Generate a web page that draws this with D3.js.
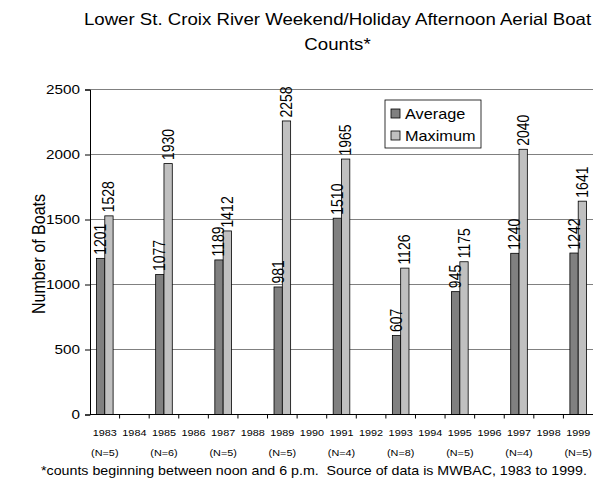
<!DOCTYPE html>
<html lang="en">
<head>
    <meta charset="UTF-8">
    <title>Lower St. Croix River Boat Counts</title>
    <script src="https://d3js.org/d3.v7.min.js"></script>
    <style>
        body { margin: 0; background: #fff; font-family: Arial, "Liberation Sans", sans-serif; }
        text { font-family: Arial, "Liberation Sans", sans-serif; fill: #000; }
    </style>
</head>
<body>
    <div id="chart"></div>

    <script>
        // data
        const years = ["1983","1984","1985","1986","1987","1988","1989","1990","1991",
                       "1992","1993","1994","1995","1996","1997","1998","1999"];
        const nLabels = ["(N=5)","","(N=6)","","(N=5)","","(N=5)","","(N=4)",
                         "","(N=8)","","(N=5)","","(N=4)","","(N=5)"];
        const surveyYears = ["1983","1985","1987","1989","1991","1993","1995","1997","1999"];
        const average = [1201, 1077, 1189, 981, 1510, 607, 945, 1240, 1242];
        const maximum = [1528, 1930, 1412, 2258, 1965, 1126, 1175, 2040, 1641];
        const seriesNames = ["Average", "Maximum"];
        const yTicks = [0, 500, 1000, 1500, 2000, 2500];

        const W = 595, H = 483;
        const plotLeft = 90, plotRight = 593, plotTop = 89.5, plotBottom = 414.5;
        const SX = 1.13; // the original text looks a bit stretched sideways

        const svg = d3.select("#chart").append("svg")
            .attr("width", W).attr("height", H);

        // place horizontal text at (x, y) with the sideways stretch
        function place(sel, fx, fy) {
            return sel.attr("transform", (d, i) => `translate(${fx(d, i)},${fy(d, i)}) scale(${SX},1)`);
        }

        const x = d3.scaleBand().domain(years).range([plotLeft, plotRight]).padding(0);
        const xs = d3.scaleBand().domain(seriesNames).range([0, x.bandwidth()])
            .paddingInner(0).paddingOuter(0.78);
        const y = d3.scaleLinear().domain([0, 2500]).range([plotBottom, plotTop]);
        const color = d3.scaleOrdinal().domain(seriesNames).range(["#808080", "#c0c0c0"]);

        // title
        place(svg.append("g").selectAll("text")
            .data(["Lower St. Croix River Weekend/Holiday Afternoon Aerial Boat", "Counts*"])
            .join("text")
            .attr("text-anchor", "middle").attr("font-size", 16.5)
            .text(d => d), () => 337.5, (d, i) => 25 + i * 25);

        // gridlines
        svg.append("g").selectAll("line").data(yTicks.filter(d => d > 0)).join("line")
            .attr("x1", plotLeft).attr("x2", plotRight)
            .attr("y1", d => y(d)).attr("y2", d => y(d))
            .attr("stroke", "#808080").attr("stroke-width", 1.2);

        // bars
        const rows = surveyYears.map((yr, i) => ({ year: yr, values: [
            { key: "Average", value: average[i] },
            { key: "Maximum", value: maximum[i] }
        ]}));

        const groups = svg.append("g").selectAll("g").data(rows).join("g")
            .attr("transform", d => `translate(${x(d.year)},0)`);

        groups.selectAll("rect").data(d => d.values).join("rect")
            .attr("x", d => xs(d.key))
            .attr("width", xs.bandwidth())
            .attr("y", d => y(d.value))
            .attr("height", d => y(0) - y(d.value))
            .attr("fill", d => color(d.key))
            .attr("stroke", "#000").attr("stroke-width", 0.8);

        groups.selectAll("text").data(d => d.values).join("text")
            .attr("font-size", 14)
            .attr("transform", d => `translate(${xs(d.key) + xs.bandwidth() / 2 + 5.5},${y(d.value) - 3.5}) rotate(-90) scale(1,${SX})`)
            .text(d => d.value);

        // y axis
        const yAxis = svg.append("g").attr("transform", `translate(${plotLeft},0)`)
            .call(d3.axisLeft(y).tickValues(yTicks).tickFormat(d3.format("d"))
                .tickSize(5).tickPadding(3.9));
        yAxis.select(".domain").attr("stroke", "#000");
        yAxis.selectAll(".tick line").attr("stroke", "#000");
        yAxis.selectAll("text").attr("font-size", 13.5).attr("fill", "#000")
            .attr("font-family", "Arial, 'Liberation Sans', sans-serif")
            .attr("transform", `scale(${SX},1)`);

        // x axis
        svg.append("line").attr("x1", plotLeft).attr("x2", plotRight)
            .attr("y1", y(0)).attr("y2", y(0)).attr("stroke", "#000");
        svg.append("g").selectAll("line").data(years.slice(1)).join("line")
            .attr("x1", d => x(d)).attr("x2", d => x(d))
            .attr("y1", y(0)).attr("y2", y(0) + 4).attr("stroke", "#000");

        place(svg.append("g").selectAll("text").data(years).join("text")
            .attr("text-anchor", "middle").attr("font-size", 9.6)
            .text(d => d), d => x(d) + x.bandwidth() / 2, () => 436);

        place(svg.append("g").selectAll("text").data(years).join("text")
            .attr("text-anchor", "middle").attr("font-size", 9.6)
            .text((d, i) => nLabels[i]), d => x(d) + x.bandwidth() / 2, () => 456);

        // y axis title
        svg.append("text").attr("transform", `translate(45,254) rotate(-90) scale(1,${SX})`)
            .attr("text-anchor", "middle").attr("font-size", 16)
            .text("Number of Boats");

        // footnote
        place(svg.append("text").attr("font-size", 12.6)
            .style("white-space", "pre")
            .text("*counts beginning between noon and 6 p.m.  Source of data is MWBAC, 1983 to 1999."),
            () => 41, () => 475);

        // legend
        const lg = svg.append("g").attr("transform", "translate(385,100)");
        lg.append("rect").attr("width", 96).attr("height", 48)
            .attr("fill", "#fff").attr("stroke", "#000").attr("stroke-width", 0.8);
        lg.selectAll("rect.sw").data(seriesNames).join("rect").attr("class", "sw")
            .attr("x", 6).attr("y", (d, i) => 9 + i * 22).attr("width", 9).attr("height", 9)
            .attr("fill", d => color(d)).attr("stroke", "#000").attr("stroke-width", 0.8);
        place(lg.selectAll("text").data(seriesNames).join("text")
            .attr("font-size", 14.4).text(d => d), () => 20, (d, i) => 19 + i * 22);
    </script>
</body>
</html>
